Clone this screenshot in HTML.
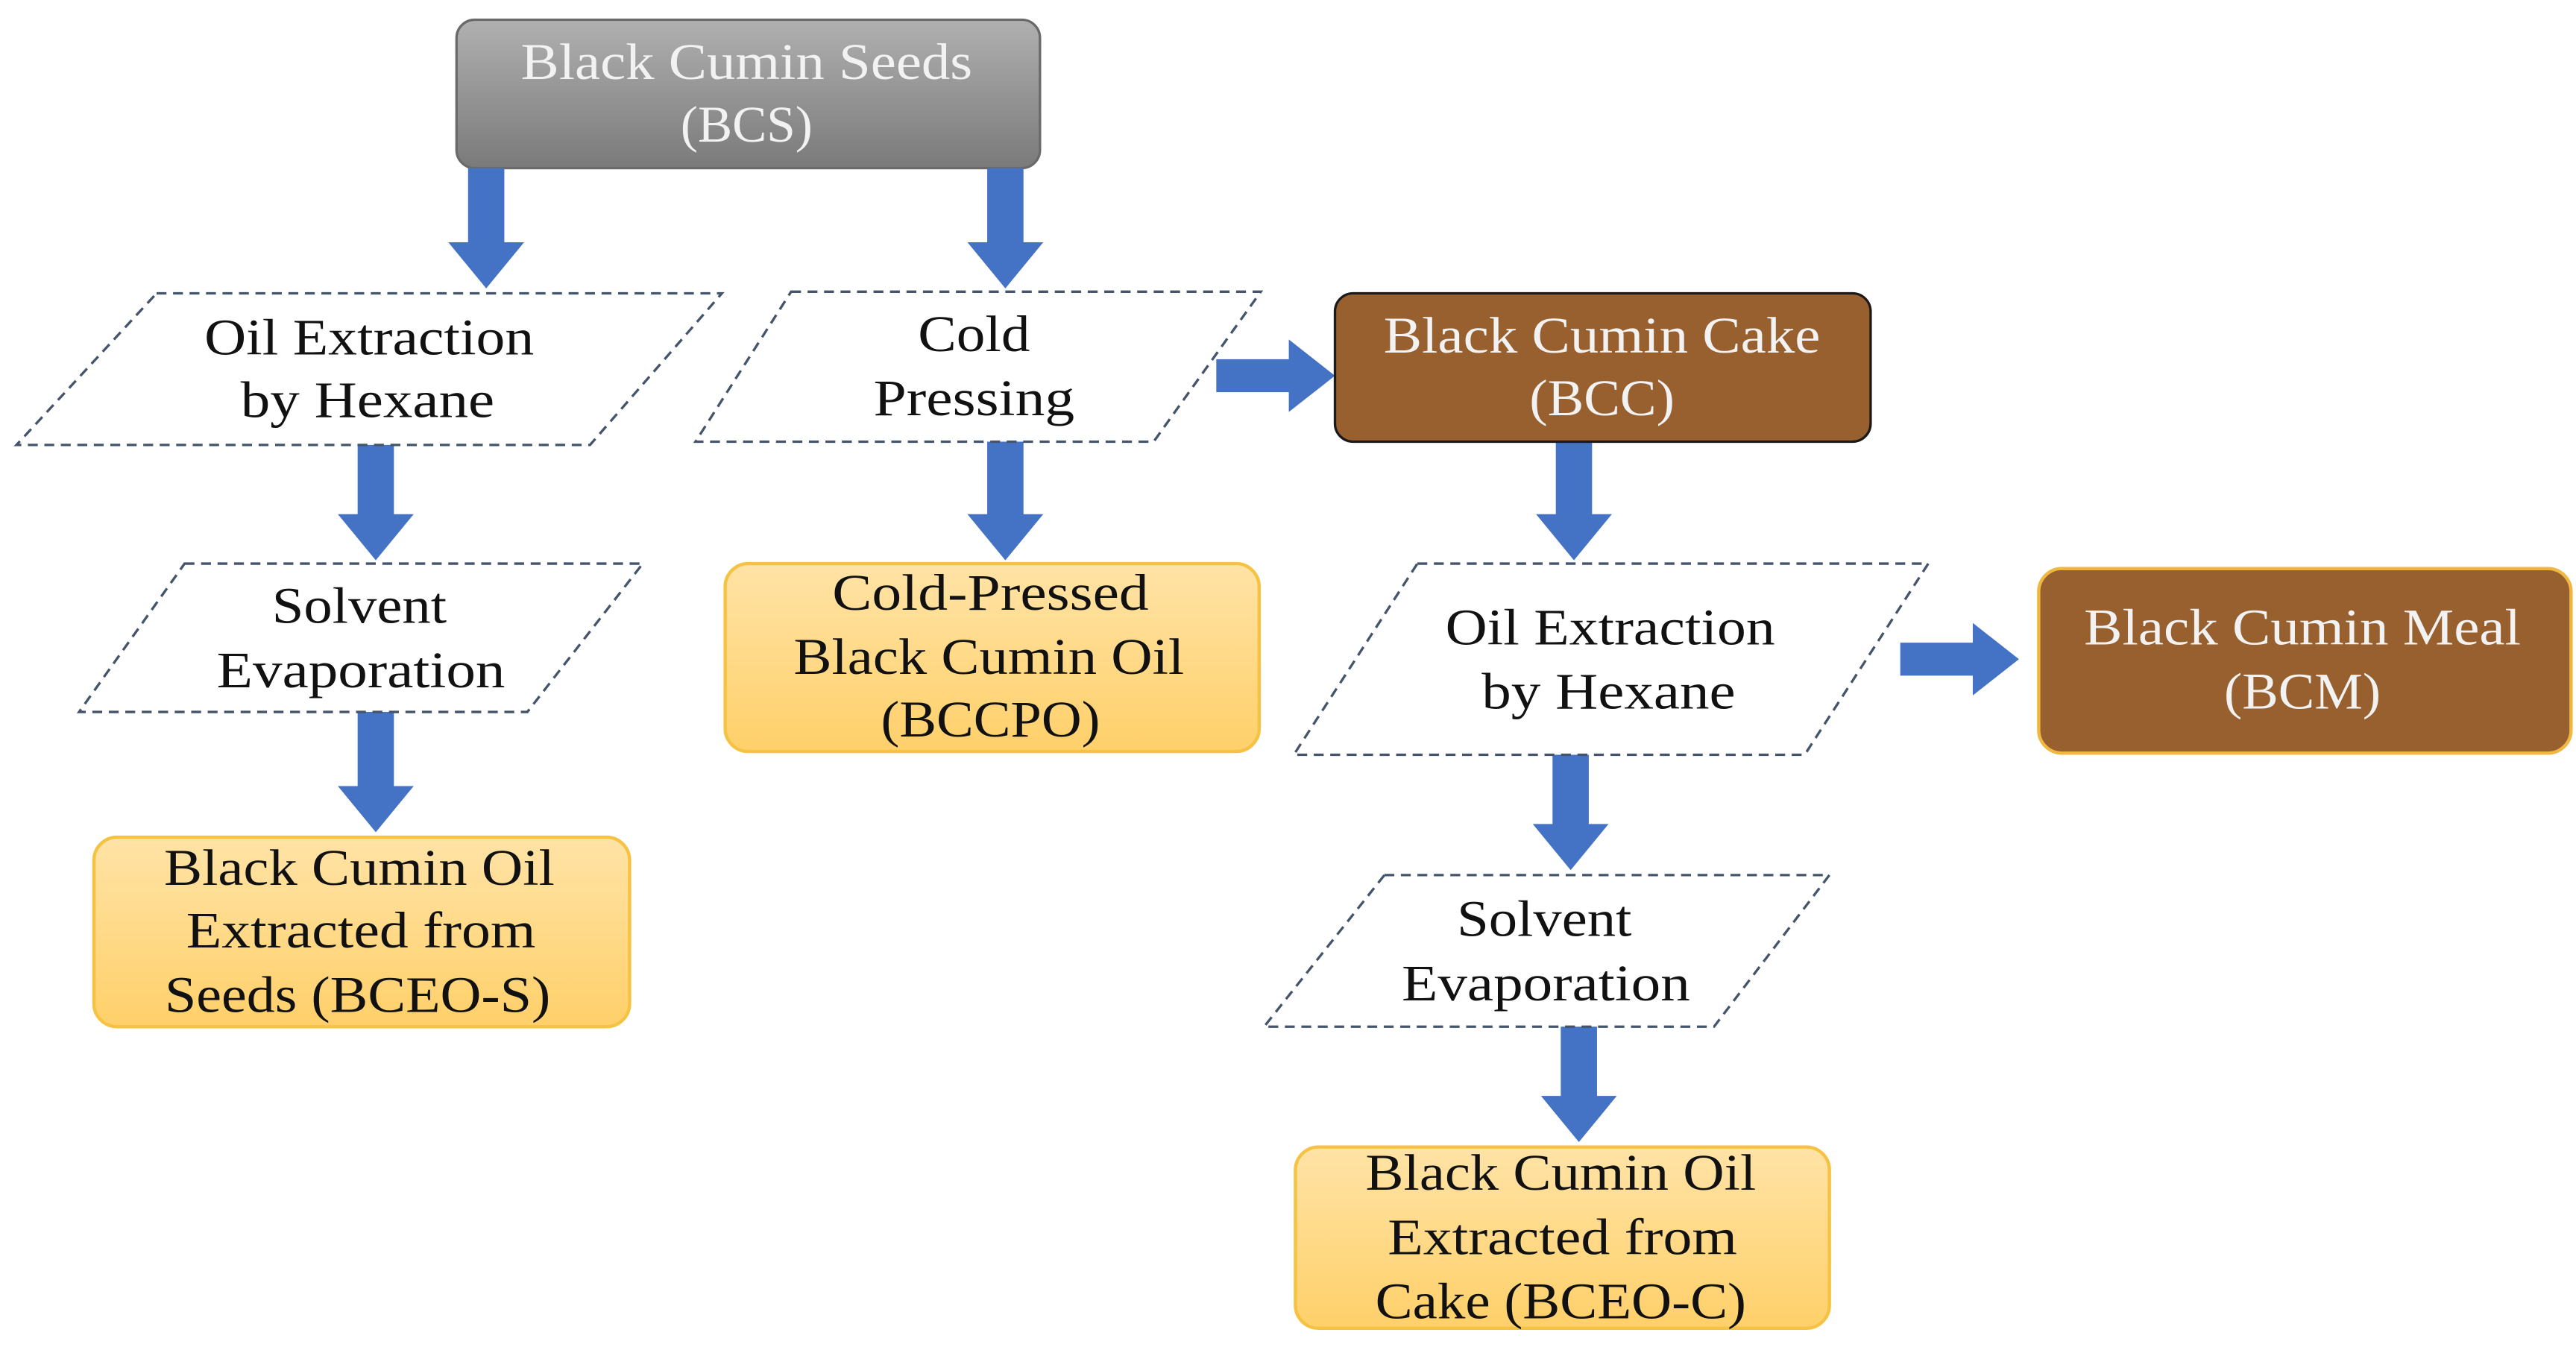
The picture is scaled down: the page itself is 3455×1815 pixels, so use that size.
<!DOCTYPE html>
<html><head><meta charset="utf-8"><style>
html,body{margin:0;padding:0;background:#fff;}
svg{display:block;}
text{font-family:"Liberation Serif",serif;font-size:31px;text-anchor:middle;}
.w{fill:#f2f2f2}.k{fill:#111}
</style></head><body>
<svg width="3455" height="1815" viewBox="0 0 1563 821" preserveAspectRatio="none" xmlns="http://www.w3.org/2000/svg">
<defs>
<linearGradient id="g" x1="0" y1="0" x2="0" y2="1"><stop offset="0" stop-color="#b0b0b0"/><stop offset="1" stop-color="#7a7a7a"/></linearGradient>
<linearGradient id="y" x1="0" y1="0" x2="0" y2="1"><stop offset="0" stop-color="#ffe3a6"/><stop offset="1" stop-color="#ffd06a"/></linearGradient>
</defs>
<rect x="277" y="12" width="354" height="90" rx="11" fill="url(#g)" stroke="#6a6a6a" stroke-width="1.5"/>
<text class="w" x="453" y="48" textLength="274" lengthAdjust="spacingAndGlyphs">Black Cumin Seeds</text>
<text class="w" x="453" y="86" textLength="80" lengthAdjust="spacingAndGlyphs">(BCS)</text>

<g fill="#4472c4">
<polygon points="284,102 306,102 306,147 318,147 295,175 272,147 284,147"/>
<polygon points="599,102 621,102 621,147 633,147 610,175 587,147 599,147"/>
<polygon points="217,270 239,270 239,312 251,312 228,340 205,312 217,312"/>
<polygon points="217,432 239,432 239,477 251,477 228,505 205,477 217,477"/>
<polygon points="599,268 621,268 621,312 633,312 610,340 587,312 599,312"/>
<polygon points="944,268 966,268 966,312 978,312 955,340 932,312 944,312"/>
<polygon points="942,458 964,458 964,500 976,500 953,528 930,500 942,500"/>
<polygon points="947,623 969,623 969,665 981,665 958,693 935,665 947,665"/>
<polygon points="738,218 782,218 782,206 810,228 782,250 782,238 738,238"/>
<polygon points="1153,390 1197,390 1197,378 1225,400 1197,422 1197,410 1153,410"/>
</g>

<g fill="none" stroke="#44546a" stroke-width="1.5" stroke-dasharray="6,4">
<polygon points="95,178 438,178 358,270 10,270"/>
<polygon points="480,177 765,177 700,268 422,268"/>
<polygon points="112,342 390,342 320,432 48,432"/>
<polygon points="860,342 1170,342 1095,458 785,458"/>
<polygon points="840,531 1110,531 1040,623 767,623"/>
</g>
<text class="k" x="224" y="215" textLength="200" lengthAdjust="spacingAndGlyphs">Oil Extraction</text>
<text class="k" x="223" y="253" textLength="154" lengthAdjust="spacingAndGlyphs">by Hexane</text>
<text class="k" x="591" y="213" textLength="68" lengthAdjust="spacingAndGlyphs">Cold</text>
<text class="k" x="591" y="252" textLength="122" lengthAdjust="spacingAndGlyphs">Pressing</text>
<text class="k" x="218" y="378" textLength="106" lengthAdjust="spacingAndGlyphs">Solvent</text>
<text class="k" x="219" y="417" textLength="175" lengthAdjust="spacingAndGlyphs">Evaporation</text>
<text class="k" x="977" y="391" textLength="200" lengthAdjust="spacingAndGlyphs">Oil Extraction</text>
<text class="k" x="976" y="430" textLength="154" lengthAdjust="spacingAndGlyphs">by Hexane</text>
<text class="k" x="937" y="568" textLength="106" lengthAdjust="spacingAndGlyphs">Solvent</text>
<text class="k" x="938" y="607" textLength="175" lengthAdjust="spacingAndGlyphs">Evaporation</text>

<rect x="810" y="178" width="325" height="90" rx="11" fill="#98602f" stroke="#1a1a1a" stroke-width="1.5"/>
<text class="w" x="972" y="214" textLength="265" lengthAdjust="spacingAndGlyphs">Black Cumin Cake</text>
<text class="w" x="972" y="252" textLength="88" lengthAdjust="spacingAndGlyphs">(BCC)</text>

<rect x="1237" y="345" width="323" height="112" rx="14" fill="#98602f" stroke="#f0b840" stroke-width="2"/>
<text class="w" x="1397" y="391" textLength="265" lengthAdjust="spacingAndGlyphs">Black Cumin Meal</text>
<text class="w" x="1397" y="430" textLength="95" lengthAdjust="spacingAndGlyphs">(BCM)</text>

<g fill="url(#y)" stroke="#f5c242" stroke-width="2">
<rect x="57" y="508" width="325" height="115" rx="14"/>
<rect x="440" y="342" width="324" height="114" rx="14"/>
<rect x="786" y="696" width="324" height="110" rx="14"/>
</g>
<text class="k" x="218" y="537" textLength="237" lengthAdjust="spacingAndGlyphs">Black Cumin Oil</text>
<text class="k" x="219" y="575" textLength="212" lengthAdjust="spacingAndGlyphs">Extracted from</text>
<text class="k" x="217" y="614" textLength="234" lengthAdjust="spacingAndGlyphs">Seeds (BCEO-S)</text>
<text class="k" x="601" y="370" textLength="192" lengthAdjust="spacingAndGlyphs">Cold-Pressed</text>
<text class="k" x="600" y="409" textLength="237" lengthAdjust="spacingAndGlyphs">Black Cumin Oil</text>
<text class="k" x="601" y="447" textLength="133" lengthAdjust="spacingAndGlyphs">(BCCPO)</text>
<text class="k" x="947" y="722" textLength="237" lengthAdjust="spacingAndGlyphs">Black Cumin Oil</text>
<text class="k" x="948" y="761" textLength="212" lengthAdjust="spacingAndGlyphs">Extracted from</text>
<text class="k" x="947" y="800" textLength="225" lengthAdjust="spacingAndGlyphs">Cake (BCEO-C)</text>
</svg>
</body></html>
